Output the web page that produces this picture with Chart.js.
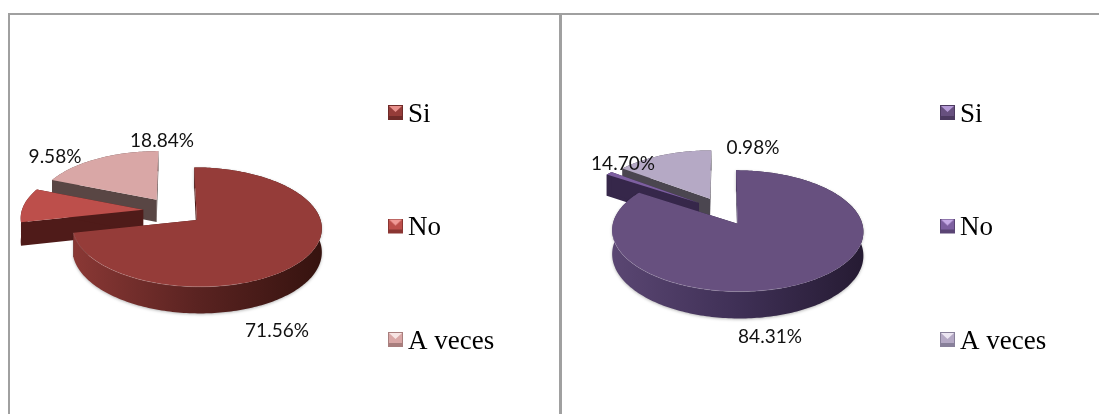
<!DOCTYPE html>
<html><head><meta charset="utf-8">
<script src="https://cdn.jsdelivr.net/npm/chart.js@4"></script>
<style>
html,body{margin:0;padding:0;background:#fff;width:1099px;height:414px;overflow:hidden}
canvas{position:absolute;display:block}
.f{position:absolute;background:#a0a0a0}
</style></head><body>
<div class="f" style="left:8px;top:13px;width:1091px;height:2px"></div>
<div class="f" style="left:8px;top:13px;width:2px;height:401px"></div>
<div class="f" style="left:559px;top:13px;width:3px;height:401px"></div>
<canvas id="a" width="540" height="480" style="left:0;top:-29px"></canvas>
<canvas id="b" width="539" height="480" style="left:560px;top:-29px"></canvas>
<script>
const categories = ['Si', 'No', 'A veces'];
const valuesLeft = [71.56, 9.58, 18.84];
const valuesRight = [84.31, 0.98, 14.70];

const RADIUS = 121.5, EXPLODE = 30, DEPTH = 23, SQUASH = 0.467, PERSP = 0.1175;

function box(color, light, dark) {
  const c = document.createElement('canvas'); c.width = 24; c.height = 19;
  const g = c.getContext('2d'), X = 9;
  g.fillStyle = color; g.fillRect(X, 0, 15, 15);
  g.fillStyle = light; g.beginPath(); g.moveTo(X + 1, 1); g.lineTo(X + 14, 1); g.lineTo(X + 7.5, 7); g.closePath(); g.fill();
  g.fillStyle = dark; g.fillRect(X, 11, 15, 4);
  g.strokeStyle = dark; g.strokeRect(X + .5, .5, 14, 14);
  return c;
}

const pie3d = {
  id: 'pie3d',
  afterLayout(chart, _a, o) {
    const l = chart.legend;
    l.left = o.legendX - l.options.labels.padding;
    l.top = o.legendTop;
    l.right = chart.width;
    l.bottom = chart.height;
  },
  beforeDatasetsDraw(chart, _a, o) {
    const ctx = chart.ctx, arcs = chart.getDatasetMeta(0).data;
    const bg = chart.data.datasets[0].backgroundColor;
    o.order.forEach(i => {
      const arc = arcs[i], R = arc.outerRadius, s = arc.startAngle, e = arc.endAngle;
      const m = (s + e) / 2, ox = Math.cos(m) * arc.options.offset, oy = Math.sin(m) * arc.options.offset;
      const P = (dx, dy, d) => {
        const v = dy / R, k = 1 / (1 - PERSP * v);
        return [arc.x + dx * k, arc.y + SQUASH * R * v * k + d * k];
      };
      const rim = [], n = Math.max(2, Math.ceil((e - s) / 0.02));
      for (let j = 0; j <= n; j++) { const t = s + (e - s) * j / n; rim.push([ox + R * Math.cos(t), oy + R * Math.sin(t), t]); }
      const poly = pts => { ctx.beginPath(); pts.forEach((p, j) => j ? ctx.lineTo(p[0], p[1]) : ctx.moveTo(p[0], p[1])); ctx.closePath(); };
      const wall = (a, b) => { poly([P(a[0], a[1], 0), P(b[0], b[1], 0), P(b[0], b[1], DEPTH), P(a[0], a[1], DEPTH)]); ctx.fillStyle = o.walls[i]; ctx.fill(); };
      const lft = P(ox - R, oy, 0)[0], rgt = P(ox + R, oy, 0)[0];
      const grad = ctx.createLinearGradient(lft, 0, rgt, 0);
      o.rims[i].forEach((c, j, all) => grad.addColorStop(j / (all.length - 1), c));
      if (i === 0) { wall([ox, oy], rim[0]); wall([ox, oy], rim[n]); }
      ctx.save();
      if (i === 0) { ctx.shadowColor = 'rgba(0,0,0,.28)'; ctx.shadowBlur = 3; ctx.shadowOffsetY = 1; }
      poly(rim.map(p => P(p[0], p[1], 0)).concat(rim.slice().reverse().map(p => P(p[0], p[1], DEPTH))));
      ctx.fillStyle = grad; ctx.fill();
      ctx.restore();
      if (i !== 0) { wall([ox, oy], rim[0]); wall([ox, oy], rim[n]); }
      poly([P(ox, oy, 0)].concat(rim.map(p => P(p[0], p[1], 0))));
      ctx.fillStyle = bg[i]; ctx.fill();
      if (i === 0) {
        ctx.strokeStyle = 'rgba(255,255,255,.14)'; ctx.lineWidth = 1; ctx.beginPath();
        let on = false;
        rim.forEach(p => { if (Math.sin(p[2]) > 0.2 && Math.cos(p[2]) < 0.3) { const q = P(p[0], p[1], 0); on ? ctx.lineTo(q[0], q[1]) : ctx.moveTo(q[0], q[1]); on = true; } });
        ctx.stroke();
      }
    });
    ctx.fillStyle = '#111'; ctx.font = '19px Lato'; ctx.textAlign = 'center'; ctx.textBaseline = 'middle';
    const vals = chart.data.datasets[0].data;
    arcs.forEach((arc, i) => ctx.fillText(vals[i].toFixed(2) + '%', arc.x + o.labelAt[i][0], arc.y + o.labelAt[i][1]));
    return false;
  }
};

function make(id, values, colors, marks, padding, opts) {
  new Chart(document.getElementById(id), {
    type: 'pie',
    plugins: [pie3d],
    data: { labels: categories, datasets: [{ data: values, backgroundColor: colors, offset: EXPLODE, borderWidth: 0 }] },
    options: {
      responsive: false, animation: false, radius: RADIUS,
      layout: { padding },
      events: [],
      plugins: {
        tooltip: { enabled: false },
        pie3d: opts,
        legend: {
          position: 'chartArea', align: 'start',
          labels: {
            font: { family: 'Liberation Serif', size: 27, lineHeight: 1.15 }, color: '#000',
            usePointStyle: true, boxWidth: 7, padding: 86.5,
            generateLabels(c) {
              return Chart.overrides.doughnut.plugins.legend.labels.generateLabels(c)
                .map((it, i) => Object.assign(it, { pointStyle: marks[i] }));
            }
          }
        }
      }
    }
  });
}

make('a', valuesLeft, ['#953c39', '#bd4f4b', '#d9a7a6'],
  [box('#953c39', '#e8908c', '#6f2b29'), box('#bd4f4b', '#f09a96', '#8a3532'), box('#d9a7a6', '#f7e4e3', '#a87e7d')],
  { left: 2, right: 196, top: 0, bottom: 0 },
  { order: [2, 1, 0], legendX: 387.5, legendTop: 43.5,
    walls: ['#4a1a18', '#4f1b19', '#594644'],
    rims: [['#8a3835', '#5a2321', '#36130f'], ['#5a2020', '#4f1b19'], ['#6b5553', '#594644']],
    labelAt: [[104, 120], [-118, -54], [-11, -70]] });

make('b', valuesRight, ['#67507f', '#7d5fa0', '#b5a9c5'],
  [box('#67507f', '#b59ad6', '#4c3a60'), box('#7d5fa0', '#c6aae6', '#5a4474'), box('#b5a9c5', '#ece6f2', '#88809a')],
  { left: 0, right: 213, top: 0, bottom: 0 },
  { order: [2, 1, 0], legendX: 379.5, legendTop: 43.5,
    walls: ['#2c2040', '#36274a', '#4b4650'],
    rims: [['#5a4672', '#3f3056', '#261b33'], ['#36274a', '#36274a'], ['#4b4650', '#4b4650']],
    labelAt: [[47, 126], [30, -63], [-100, -47]] });
</script>
</body></html>
